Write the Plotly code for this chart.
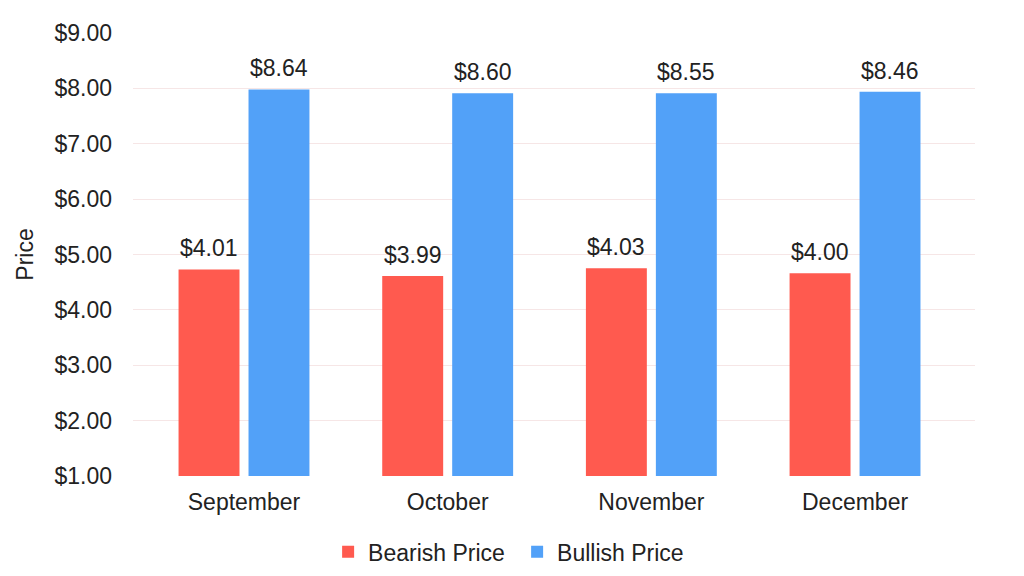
import plotly.graph_objects as go

months = ["September", "October", "November", "December"]
bearish_bar = [4.73, 4.61, 4.75, 4.66]
bullish_bar = [7.98, 7.91, 7.91, 7.94]
bearish_labels = ["$4.01", "$3.99", "$4.03", "$4.00"]
bullish_labels = ["$8.64", "$8.60", "$8.55", "$8.46"]
y_ticks = [1, 2, 3, 4, 5, 6, 7, 8, 9]

FONT = "Liberation Sans, Arial, Helvetica, sans-serif"
FS = 23
TXT = "#222222"

fig = go.Figure()
fig.add_trace(go.Bar(
    x=months, y=bearish_bar, name="Bearish Price",
    marker=dict(color="#FF5A4F", line=dict(width=0)),
))
fig.add_trace(go.Bar(
    x=months, y=bullish_bar, name="Bullish Price",
    marker=dict(color="#52A1F8", line=dict(width=0)),
))

# value labels above each bar
for series, labels, shift in ((bearish_bar, bearish_labels, -35), (bullish_bar, bullish_labels, 35)):
    for m, v, t in zip(months, series, labels):
        fig.add_annotation(x=m, y=v, text=t, showarrow=False, xshift=shift,
                           yanchor="bottom", yshift=6,
                           font=dict(size=FS, color=TXT, family=FONT))

fig.update_layout(
    width=1024, height=576,
    margin=dict(l=133, r=49, t=33, b=100),
    paper_bgcolor="#FFFFFF", plot_bgcolor="#FFFFFF",
    font=dict(family=FONT, color=TXT),
    barmode="group", bargap=0.313, bargroupgap=0.129,
    showlegend=True,
    legend=dict(orientation="h", xref="container", yref="container",
                x=0.505, xanchor="center", y=0.042, yanchor="middle",
                font=dict(size=FS, color=TXT), itemwidth=30,
                entrywidth=144, entrywidthmode="pixels",
                traceorder="normal"),
)
fig.update_xaxes(range=[-0.545, 3.589], showgrid=False, showline=False, ticks="",
                 tickfont=dict(size=FS, color=TXT), ticklabelstandoff=10)
fig.update_yaxes(range=[1, 9], tickvals=y_ticks,
                 ticktext=[f"${v:.2f}" for v in y_ticks],
                 showgrid=True, gridcolor="#F6E6E6", gridwidth=1,
                 zeroline=False, showline=False, ticks="",
                 tickfont=dict(size=FS, color=TXT),
                 title=dict(text="Price", font=dict(size=FS, color=TXT), standoff=14),
                 ticklabelstandoff=20)

fig.write_html("out.html")
